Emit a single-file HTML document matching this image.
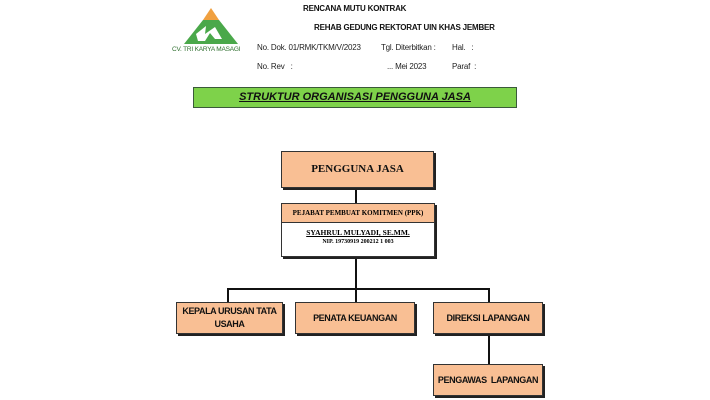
<!DOCTYPE html>
<html><head><style>
body{margin:0;width:710px;height:400px;background:#fff;position:relative;overflow:hidden;font-family:"Liberation Sans",Arial,sans-serif;}
.a{position:absolute;white-space:nowrap;}
.h{font-size:8px;font-weight:bold;color:#111;letter-spacing:-0.2px;}
.s{font-size:8px;color:#222;letter-spacing:-0.2px;}
.box{position:absolute;background:#f9bf94;border:1.5px solid #333;box-shadow:2px 2px 0 #222;box-sizing:border-box;display:flex;align-items:center;justify-content:center;text-align:center;font-weight:bold;font-size:9px;color:#111;line-height:13px;letter-spacing:-0.4px;}
.ln{position:absolute;background:#111;}
.serif{font-family:"Liberation Serif",serif;}
</style></head><body>
<svg class="a" style="left:184px;top:8px" width="54" height="36" viewBox="0 0 54 36">
<polygon points="27,0 35,12 19,12" fill="#f0a040"/>
<polygon points="19,12 35,12 54,36 0,36" fill="#4aa84a"/>
<polygon points="12,26 22,18 21,26 31,19 38,31 31,31 26,25 21,33 14,33" fill="#fff"/>
</svg>
<div class="a" style="left:172px;top:46px;font-size:6.5px;color:#2f6f2f;letter-spacing:-0.2px">CV. TRI KARYA MASAGI</div>
<div class="a h" style="left:303px;top:4px">RENCANA MUTU KONTRAK</div>
<div class="a h" style="left:314px;top:23px">REHAB GEDUNG REKTORAT UIN KHAS JEMBER</div>
<div class="a s" style="left:257px;top:43px">No. Dok. 01/RMK/TKM/V/2023</div>
<div class="a s" style="left:381px;top:43px">Tgl. Diterbitkan :</div>
<div class="a s" style="left:452px;top:43px">Hal. &nbsp;&nbsp;:</div>
<div class="a s" style="left:257px;top:62px">No. Rev &nbsp;&nbsp;:</div>
<div class="a s" style="left:387px;top:62px">... Mei 2023</div>
<div class="a s" style="left:452px;top:62px">Paraf &nbsp;:</div>
<div class="a" style="left:193px;top:87px;width:324px;height:21px;background:#7ed24a;border:1.5px solid #3a5a3a;box-sizing:border-box;text-align:center;font-size:11px;font-weight:bold;font-style:italic;text-decoration:underline;line-height:18px;color:#111;">STRUKTUR ORGANISASI PENGGUNA JASA</div>

<div class="ln" style="left:355px;top:188px;width:2px;height:16px"></div>
<div class="ln" style="left:355px;top:256px;width:2px;height:33px"></div>
<div class="ln" style="left:227px;top:288px;width:263px;height:2px"></div>
<div class="ln" style="left:227px;top:288px;width:2px;height:15px"></div>
<div class="ln" style="left:355px;top:288px;width:2px;height:15px"></div>
<div class="ln" style="left:488px;top:288px;width:2px;height:15px"></div>
<div class="ln" style="left:488px;top:334px;width:2px;height:31px"></div>

<div class="box serif" style="left:281px;top:151px;width:153px;height:37px;font-size:11px;letter-spacing:0">PENGGUNA JASA</div>
<div class="a" style="left:281px;top:203px;width:154px;height:54px;border:1.5px solid #333;box-shadow:2px 2px 0 #222;box-sizing:border-box;background:#fff;">
<div class="serif" style="background:#f9bf94;height:18px;border-bottom:1.5px solid #333;text-align:center;font-size:7px;font-weight:bold;line-height:18px">PEJABAT PEMBUAT KOMITMEN (PPK)</div>
<div class="serif" style="text-align:center;font-size:7.5px;font-weight:bold;text-decoration:underline;margin-top:5px">SYAHRUL MULYADI, SE.MM.</div>
<div class="serif" style="text-align:center;font-size:6px;font-weight:bold;margin-top:2px">NIP. 19730919 200212 1 003</div>
</div>

<div class="box" style="left:176px;top:302px;width:107px;height:32px">KEPALA URUSAN TATA<br>USAHA</div>
<div class="box" style="left:295px;top:302px;width:120px;height:32px">PENATA KEUANGAN</div>
<div class="box" style="left:433px;top:302px;width:110px;height:32px">DIREKSI LAPANGAN</div>
<div class="box" style="left:433px;top:364px;width:110px;height:32px">PENGAWAS &nbsp;LAPANGAN</div>
</body></html>
